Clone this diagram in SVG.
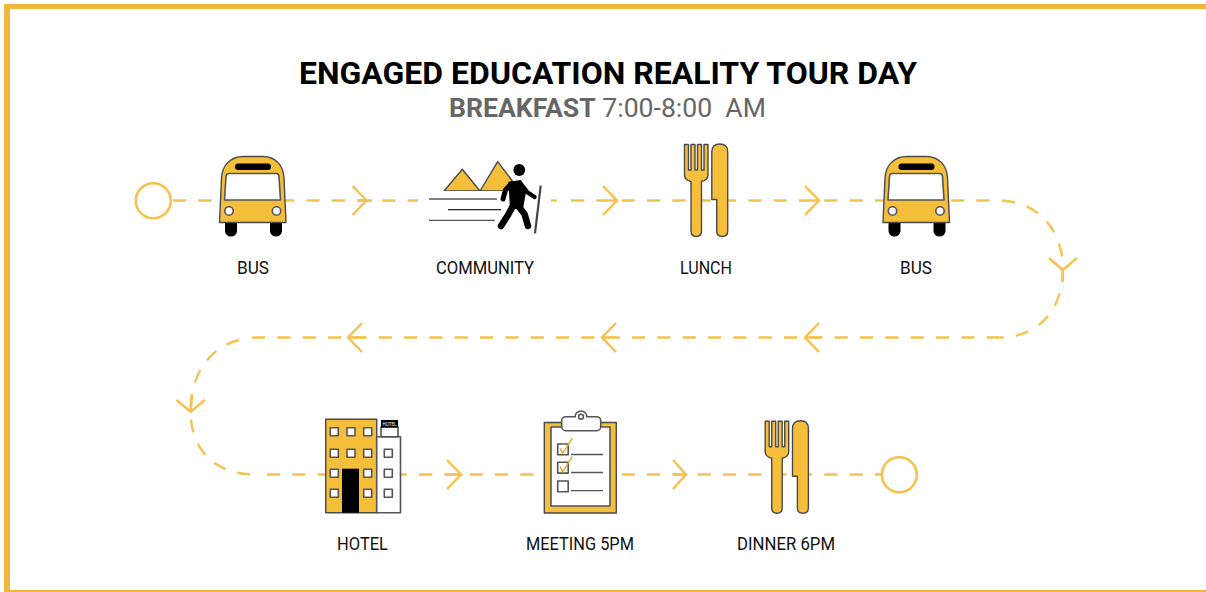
<svg xmlns="http://www.w3.org/2000/svg" width="1206" height="592" viewBox="0 0 1206 592">
<style>
.d{fill:none;stroke:#F5C24F;stroke-width:2.4;stroke-dasharray:13.2 12.13}
.c{fill:none;stroke:#F5C24F;stroke-width:2.5;stroke-linejoin:miter}
.o{fill:#fff;stroke:#F5C24F;stroke-width:2.6}
.y{fill:#F5BE3B;stroke:#4a4a4a;stroke-width:1.4;stroke-linejoin:round}
.w{fill:#fff;stroke:#555;stroke-width:1.6;stroke-linejoin:round}
.k{fill:#000}
.h{fill:none;stroke:#000;stroke-linecap:round;stroke-linejoin:round}
.l{font-family:"Roboto","Liberation Sans",sans-serif;font-size:19px;fill:#111}
.t{font-family:"Roboto","Liberation Sans",sans-serif;font-size:32px;font-weight:700;fill:#000}
.s{font-family:"Roboto","Liberation Sans",sans-serif;font-size:26.6px;fill:#666;white-space:pre}
</style>
<defs>
<g id="bus">
<path class="k" d="M225 220h12v11a6 5.500 0 0 1-12 0zM270 220h12v11a6 5.500 0 0 1-12 0z"/>
<path class="y" d="M219.500 222.500L221.500 178C222 165 231 156.500 243 156.500H263C275 156.500 283.500 165 284 178L286 222.500Z"/>
<rect class="k" x="235" y="163.500" width="36" height="6.500" rx="3.200"/>
<path class="w" d="M226 176.500Q226 173.500 229 173.500H276Q279 173.500 279 176.500L280.500 200H224.500Z"/>
<circle class="w" cx="229" cy="211" r="4.200"/>
<circle class="w" cx="276.500" cy="211" r="4.200"/>
</g>
<g id="cutlery">
<path class="y" d="M684.500 144.500H688.500V170H691V144.500H695V170H697.500V144.500H701.500V170H704V144.500H708V175Q708 180 701.500 181.500V231Q701.500 236.500 696.200 236.500Q691 236.500 691 231V181.500Q684.500 180 684.500 175Z"/>
<path class="y" d="M711.800 152Q711.800 144 719.800 144Q727.700 144 727.700 152V231Q727.700 236.500 722.200 236.500Q716.700 236.500 716.700 231V199.500H711.800Z"/>
</g>
</defs>
<g id="border" fill="#F2B63C">
<rect x="4" y="4" width="1202" height="5"/>
<rect x="4" y="4" width="6" height="588"/>
<rect x="4" y="590" width="1202" height="2"/>
</g>
<g id="connectors">
<line class="d" x1="173" y1="200.500" x2="225" y2="200.500"/>
<line class="d" x1="281" y1="200.500" x2="418" y2="200.500"/>
<line class="d" x1="551" y1="200.500" x2="557" y2="200.500" style="stroke-dasharray:none"/>
<line class="d" x1="571" y1="200.500" x2="1000" y2="200.500"/>
<path class="d" d="M1002 200.500C1042 203 1063 234 1063 269C1063 306 1042 337 1000 337.500"/>
<line class="d" x1="252" y1="337.500" x2="1000" y2="337.500"/>
<path class="d" d="M239 340C208 348 190.500 376 190.500 411C190.500 445 210 474 254 474.500"/>
<line class="d" x1="267" y1="474.500" x2="882" y2="474.500"/>
<path class="c" d="M352.500 186L366.500 200.500L352.500 215M359 200.500H372"/>
<path class="c" d="M603 186L617 200.500L603 215M609 200.500H617"/>
<path class="c" d="M805 186L819 200.500L805 215M811 200.500H819"/>
<path class="c" d="M1049 258L1062.700 270L1077 258M1062.700 270V282"/>
<path class="c" d="M819 323L805 337.500L819 352M805 337.500H822"/>
<path class="c" d="M616 323L602 337.500L616 352M602 337.500H614"/>
<path class="c" d="M362 323L348 337.500L362 352M348 337.500H365"/>
<path class="c" d="M176.500 400L190.700 411.700L205 400M190.700 411.700L192 395"/>
<path class="c" d="M447 460L461 474.500L447 489M445 474.500H461"/>
<path class="c" d="M673 460L686 474.500L673 489M673 474.500H686"/>
</g>
<g id="start"><circle class="o" cx="153.300" cy="200.700" r="17.500"/></g>
<g id="end"><circle class="o" cx="899.300" cy="474.700" r="17.500"/></g>
<g id="title">
<text class="t" x="299" y="83.500" textLength="618" lengthAdjust="spacingAndGlyphs">ENGAGED EDUCATION REALITY TOUR DAY</text>
<text class="s" x="449" y="116.700"><tspan font-weight="700">BREAKFAST</tspan> 7:00-8:00  AM</text>
</g>
<g id="node-bus1">
<use href="#bus"/>
<text class="l" x="237" y="273.500" textLength="32" lengthAdjust="spacingAndGlyphs">BUS</text>
</g>
<g id="node-community">
<path class="y" d="M444 191L462.300 169.300L480 191L497.700 161.700L520 191Z"/>
<rect x="440" y="191" width="80" height="3" fill="#fff"/>
<path fill="none" stroke="#555" stroke-width="1.300" d="M429 199H497M429 220.300H495"/>
<path fill="none" stroke="#222" stroke-width="1.300" d="M448 209.700H501"/>
<circle class="k" cx="519.300" cy="170" r="5.900"/>
<path class="k" d="M508 182L521 180L526 192L523 209L510 209L509 192Z"/>
<path class="h" stroke-width="6.500" d="M513.500 205L508 215L501 226"/>
<path class="h" stroke-width="6.500" d="M517.500 205L524.500 214L528 226"/>
<path class="h" stroke-width="5" d="M511 184L505.500 190L503 199"/>
<path class="h" stroke-width="4.500" d="M520 183L527 192L534.500 197"/>
<line x1="540.700" y1="185.700" x2="535" y2="233.300" stroke="#444" stroke-width="2.200"/>
<text class="l" x="436" y="273.500" textLength="98" lengthAdjust="spacingAndGlyphs">COMMUNITY</text>
</g>
<g id="node-lunch">
<use href="#cutlery"/>
<text class="l" x="680" y="273.500" textLength="52" lengthAdjust="spacingAndGlyphs">LUNCH</text>
</g>
<g id="node-bus2">
<use href="#bus" x="663.500"/>
<text class="l" x="900" y="273.500" textLength="32" lengthAdjust="spacingAndGlyphs">BUS</text>
</g>
<g id="node-hotel">
<rect class="y" x="325.700" y="419.300" width="51" height="93.400"/>
<rect class="w" x="376.700" y="436.700" width="23.800" height="76"/>
<rect class="w" x="381" y="427" width="17" height="9.700"/>
<rect class="k" x="381" y="420" width="17" height="7.500"/>
<text x="389.500" y="425.500" font-family="Roboto,sans-serif" font-size="4.500" fill="#fff" text-anchor="middle">HOTEL</text>
<g class="w">
<rect x="330.300" y="427.700" width="8" height="8"/><rect x="347" y="427.700" width="8" height="8"/><rect x="363.700" y="427.700" width="8" height="8"/>
<rect x="330.300" y="449.300" width="8" height="8"/><rect x="347" y="449.300" width="8" height="8"/><rect x="363.700" y="449.300" width="8" height="8"/>
<rect x="330.300" y="469.300" width="8" height="8"/><rect x="363.700" y="469.300" width="8" height="8"/>
<rect x="330.300" y="489.300" width="8" height="8"/><rect x="363.700" y="489.300" width="8" height="8"/>
<rect x="384.300" y="449.300" width="8" height="8"/><rect x="384.300" y="469.300" width="8" height="8"/><rect x="384.300" y="489.300" width="8" height="8"/>
</g>
<rect class="k" x="342" y="468.700" width="17" height="44"/>
<text class="l" x="337" y="550" textLength="51" lengthAdjust="spacingAndGlyphs">HOTEL</text>
</g>
<g id="node-meeting">
<rect class="y" x="544.300" y="422.500" width="72" height="90.500"/>
<rect class="w" x="551" y="427" width="59" height="79"/>
<circle class="w" cx="581" cy="417" r="6"/>
<rect class="w" x="561.700" y="416.700" width="39" height="14" rx="4"/>
<rect x="576" y="416" width="10" height="2" fill="#fff"/>
<circle class="w" cx="581" cy="416.700" r="2.400"/>
<g class="w"><rect x="557.700" y="444" width="10.500" height="10.800"/><rect x="557.700" y="462.300" width="10.500" height="10.800"/><rect x="557.700" y="481" width="10.500" height="10.800"/></g>
<path fill="none" stroke="#555" stroke-width="1.300" d="M571 454.500H603M571 472.500H603M571 490.700H603"/>
<path fill="none" stroke="#E8A020" stroke-width="1.300" d="M560 448.300L562.700 453.300L572.300 438.300M560 466.600L562.700 471.600L572.300 456.600"/>
<text class="l" x="526" y="550" textLength="108" lengthAdjust="spacingAndGlyphs">MEETING 5PM</text>
</g>
<g id="node-dinner">
<use href="#cutlery" x="80.700" y="276.700"/>
<text class="l" x="737" y="550" textLength="98" lengthAdjust="spacingAndGlyphs">DINNER 6PM</text>
</g>
</svg>
